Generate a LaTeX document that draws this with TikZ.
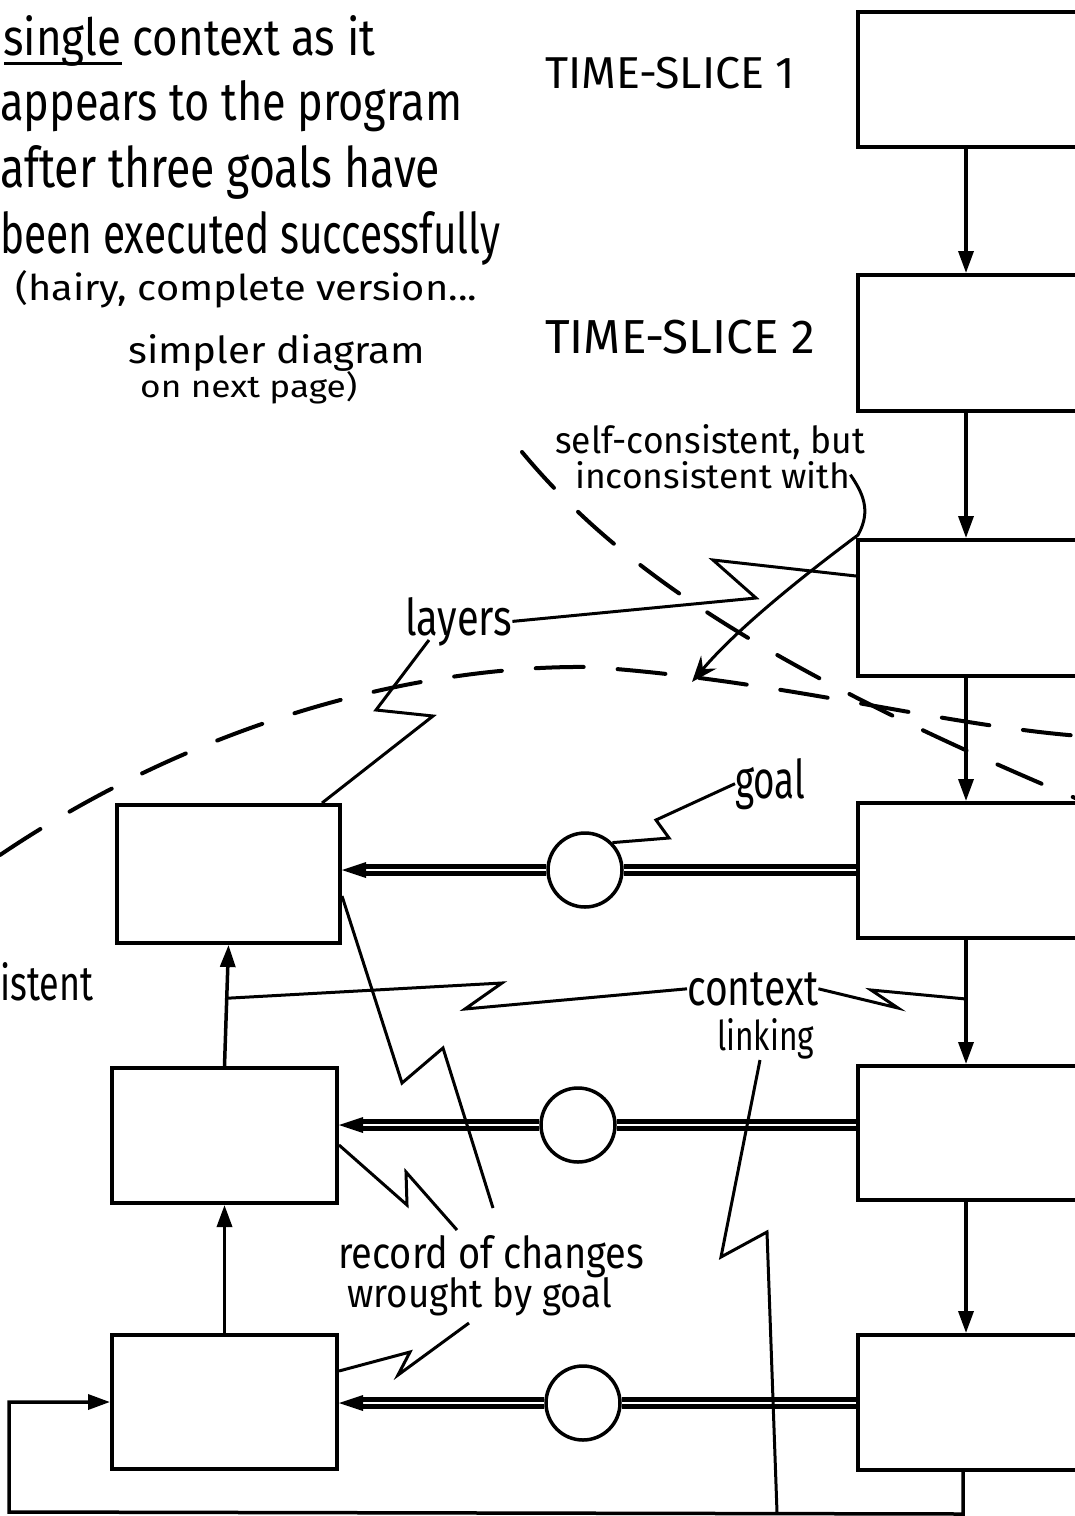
\documentclass[tikz,border=0pt]{standalone}
\usepackage{fontspec}
\setmainfont{Fira Sans}
\usetikzlibrary{arrows.meta,calc}
\begin{document}
\begin{tikzpicture}[x=1pt,y=-1pt,
  box/.style={draw, line width=4pt, inner sep=0pt},
  arr/.style={line width=3.5pt, -{Triangle[length=22pt,width=15pt]}},
  lead/.style={line width=3pt, line join=miter},
  dbl/.style={double, line width=5pt, double distance=2pt},
  goalc/.style={circle, draw, line width=3.5pt, minimum size=74pt, inner sep=0pt, fill=white},
  txt/.style={inner sep=0pt, anchor=base west, font=\fontsize{40}{48}\selectfont},
  dsh/.style={line width=4pt, dash pattern=on 48pt off 34pt, line cap=round}
]
\useasboundingbox (0,0) rectangle (1075,1516);
\clip (0,0) rectangle (1075,1516);

% dashed layer outlines
\draw[dsh] (0,855) .. controls (200,720) and (420,665) .. (590,667)
           .. controls (780,680) and (940,725) .. (1080,736);
\draw[dsh] (522,452) .. controls (620,570) and (770,670) .. (1080,800);

% right column (time slices)
\node[box, minimum width=300pt, minimum height=135pt] (R1) at (1008,79.5) {};
\node[box, minimum width=300pt, minimum height=136pt] (R2) at (1008,343) {};
\node[box, minimum width=300pt, minimum height=136pt] (R3) at (1008,608) {};
\node[box, minimum width=300pt, minimum height=135pt] (R4) at (1008,870.5) {};
\node[box, minimum width=300pt, minimum height=134pt] (R5) at (1008,1133) {};
\node[box, minimum width=300pt, minimum height=135pt] (R6) at (1008,1402.5) {};

% left column (layers of the context)
\node[box, minimum width=223pt, minimum height=138pt] (L1) at (228.5,874) {};
\node[box, minimum width=225pt, minimum height=135pt] (L2) at (224.5,1135.5) {};
\node[box, minimum width=225pt, minimum height=134pt] (L3) at (224.5,1402) {};

% goals
\node[goalc] (G1) at (585,870) {};
\node[goalc] (G2) at (578,1125) {};
\node[goalc] (G3) at (583,1403) {};

% time-slice arrows
\draw[arr] ($(R1.south west)+(110,0)$) -- ($(R2.north west)+(110,0)$);
\draw[arr] ($(R2.south west)+(110,0)$) -- ($(R3.north west)+(110,0)$);
\draw[arr] ($(R3.south west)+(110,0)$) -- ($(R4.north west)+(110,0)$);
\draw[arr] ($(R4.south west)+(110,0)$) -- ($(R5.north west)+(110,0)$);
\draw[arr] ($(R5.south west)+(110,0)$) -- ($(R6.north west)+(110,0)$);

% layer arrows
\draw[arr] (L3.north) -- (L2.south);
\draw[arr] (L2.north) -- (L1.south);

% feedback loop
\coordinate (fbR) at ($(R6.south west)+(107,42)$);
\coordinate (fbL) at (9,1512);
\coordinate (fbM) at (777,1512);
\draw[arr] ($(R6.south west)+(107,0)$) -- (fbR) -- (fbL) |- (L3.west);

% goal connectors (double lines)
\draw[dbl] (G1.east -| R4.west) -- (G1.east);
\draw[dbl] (G1.west) -- ($(G1.west -| L1.east)+(20,0)$);
\fill (G1.west -| L1.east) -- ++(24,-8) -- ++(0,16) -- cycle;
\draw[dbl] (G2.east -| R5.west) -- (G2.east);
\draw[dbl] (G2.west) -- ($(G2.west -| L2.east)+(20,0)$);
\fill (G2.west -| L2.east) -- ++(24,-8) -- ++(0,16) -- cycle;
\draw[dbl] (G3.east -| R6.west) -- (G3.east);
\draw[dbl] (G3.west) -- ($(G3.west -| L3.east)+(20,0)$);
\fill (G3.west -| L3.east) -- ++(24,-8) -- ++(0,16) -- cycle;

% texts
\node[txt] (t1) at (3,55) {\resizebox{372pt}{40pt}{single context as it}};
\draw[line width=3pt] ($(t1.base west)+(1,8)$) -- ++(118,0);
\node[txt] (t2) at (0,120) {\resizebox{462pt}{40pt}{appears to the program}};
\node[txt] (t3) at (0,187) {\resizebox{440pt}{42pt}{after three goals have}};
\node[txt] (t4) at (0,253) {\resizebox{500pt}{42pt}{been executed successfully}};
\node[txt] (t5) at (15,300) {\resizebox{462pt}{30pt}{(hairy, complete version...}};
\node[txt] (t6) at (128,363) {\resizebox{297pt}{29pt}{simpler diagram}};
\node[txt] (t7) at (140,397) {\resizebox{217pt}{26pt}{on next page)}};
\node[txt] (ts1) at (545,88) {\resizebox{250pt}{!}{TIME-SLICE 1}};
\node[txt] (ts2) at (545,353) {\resizebox{270pt}{!}{TIME-SLICE 2}};
\node[txt] (sc1) at (555,453) {\resizebox{310pt}{29pt}{self-consistent, but}};
\node[txt] (sc2) at (575,488) {\resizebox{275pt}{27pt}{inconsistent with}};
\node[txt] (lay) at (405,635) {\resizebox{107pt}{38pt}{layers}};
\node[txt] (goal) at (735,798) {\resizebox{70pt}{40pt}{goal}};
\node[txt] (ctx) at (687,1005) {\resizebox{131pt}{33pt}{context}};
\node[txt] (lnk) at (717,1050) {\resizebox{97pt}{32pt}{linking}};
\node[txt] (rec1) at (338,1268) {\resizebox{306pt}{33pt}{record of changes}};
\node[txt] (rec2) at (347,1307) {\resizebox{265pt}{30pt}{wrought by goal}};
\node[txt] (cons) at (0,1000) {\resizebox{93pt}{38pt}{istent}};

% leaders
\draw[lead] (lay.east) -- (756,598) -- (713,560) -- ($(R3.north west)+(0,38)$);
\draw[lead] (429,640) -- (376,710) -- (433,716) -- ($(L1.north west)+(207,0)$);
\draw[lead] (goal.west) -- (656,820) -- (669,838) -- (G1.45);
\coordinate (cL) at ($(L2.north)!0.56!(L1.south)$);
\coordinate (cR) at ($(R4.south west)+(110,59)$);
\draw[lead] (ctx.west) -- (465,1009) -- (502,983) -- (cL);
\draw[lead] (ctx.east) -- (898,1008) -- (871,990) -- (cR);
\draw[lead] (760,1060) -- (721,1257) -- (767,1232) -- (fbM);
\draw[lead] ($(L1.north east)+(0,93)$) -- (402,1083) -- (443,1048) -- (493,1208);
\draw[lead] ($(L2.north east)+(0,79)$) -- (407,1205) -- (406,1172) -- (457,1230);
\draw[lead] ($(L3.north east)+(0,38)$) -- (410,1352) -- (398,1375) -- (469,1323);

% curly arrow
\draw[line width=3pt, -{Stealth[length=26pt,width=20pt,inset=9pt]}]
  (sc2.east) .. controls (862,492) and (872,510) .. (858,535)
  .. controls (815,567) and (740,625) .. (692,682);
\end{tikzpicture}
\end{document}
